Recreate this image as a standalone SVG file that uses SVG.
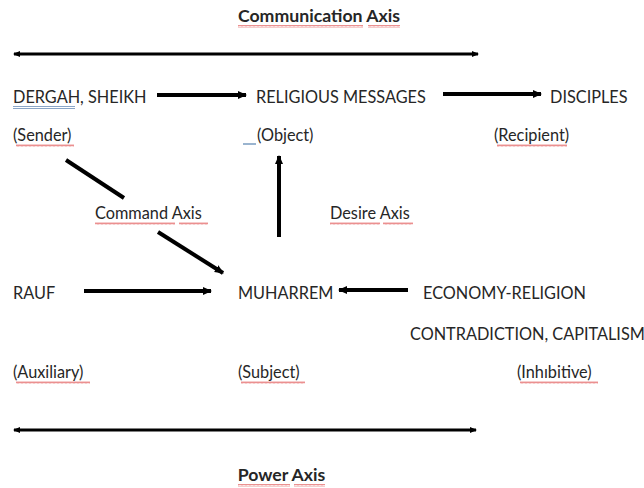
<svg xmlns="http://www.w3.org/2000/svg" width="644" height="488" viewBox="0 0 644 488">
<style>
text{font-family:Lato,"Open Sans","Liberation Sans",sans-serif;font-size:16.3px;fill:#262626}
.b{font-weight:bold;font-size:17.7px}
.thick{stroke:#000;stroke-width:4;fill:none}
.axis{stroke:#000;stroke-width:3;fill:none}
.sq{fill:url(#sq)}
</style>
<defs>
<marker id="ah" markerUnits="userSpaceOnUse" markerWidth="10" markerHeight="10" refX="8" refY="5" orient="auto"><path d="M0,1 L9,5 L0,9 Z" fill="#000"/></marker>
<marker id="ax" markerUnits="userSpaceOnUse" markerWidth="8" markerHeight="8" refX="6" refY="4" orient="auto-start-reverse"><path d="M0,1 L7,4 L0,7 Z" fill="#000"/></marker>
<pattern id="sq" width="4" height="3" patternUnits="userSpaceOnUse"><path d="M0,2.5 L1,0.5 L2,2.5 L3,0.5 L4,2.5" stroke="#d44" stroke-width="0.6" fill="none"/></pattern>
</defs>
<g id="title-communication"><text class="b" x="319" y="22" text-anchor="middle">Communication Axis</text><rect class="sq" x="238" y="25" width="125" height="3"/><rect class="sq" x="368" y="25" width="32" height="3"/></g>
<g id="title-power"><text class="b" x="281.5" y="481" text-anchor="middle">Power Axis</text><rect class="sq" x="238" y="484" width="52" height="3"/><rect class="sq" x="294" y="484" width="31" height="3"/></g>
<g id="sender"><text x="13" y="103">DERGAH, SHEIKH</text><line x1="13" y1="106.5" x2="75" y2="106.5" stroke="#8aa6c8" stroke-width="1"/><line x1="13" y1="108.5" x2="75" y2="108.5" stroke="#8aa6c8" stroke-width="1"/><text x="13" y="141">(Sender)</text><rect class="sq" x="16" y="144" width="58" height="3"/></g>
<g id="object"><text x="256" y="103">RELIGIOUS MESSAGES</text><text x="257" y="141">(Object)</text><rect x="243" y="143" width="13" height="2" fill="#9ab4cf"/></g>
<g id="recipient"><text x="550" y="103">DISCIPLES</text><text x="494" y="141">(Recipient)</text><rect class="sq" x="497" y="144" width="70" height="3"/></g>
<g id="command-axis"><text x="95" y="219">Command Axis</text><rect class="sq" x="95" y="222" width="80" height="3"/><rect class="sq" x="179" y="222" width="29" height="3"/></g>
<g id="desire-axis"><text x="330" y="219">Desire Axis</text><rect class="sq" x="330" y="222" width="50" height="3"/><rect class="sq" x="383" y="222" width="30" height="3"/></g>
<g id="helper"><text x="13" y="299">RAUF</text><text x="13" y="378">(Auxiliary)</text><rect class="sq" x="16" y="381" width="74" height="3"/></g>
<g id="subject"><text x="238" y="299">MUHARREM</text><text x="238" y="378">(Subject)</text><rect class="sq" x="241" y="381" width="64" height="3"/></g>
<g id="opponent"><text x="423" y="299">ECONOMY-RELIGION</text><text x="410" y="340">CONTRADICTION, CAPITALISM</text><text x="517" y="378">(Inhıbitive)</text><rect class="sq" x="520" y="381" width="78" height="3"/></g>
<g id="connectors">
<line class="axis" x1="14" y1="54" x2="478" y2="54" marker-start="url(#ax)" marker-end="url(#ax)"/>
<line class="axis" x1="14" y1="430" x2="476" y2="430" marker-start="url(#ax)" marker-end="url(#ax)"/>
<line class="thick" x1="157" y1="95" x2="246" y2="95" marker-end="url(#ah)"/>
<line class="thick" x1="443" y1="94" x2="541" y2="94" marker-end="url(#ah)"/>
<line class="thick" x1="66" y1="160" x2="124" y2="198"/>
<line class="thick" x1="158" y1="232" x2="223" y2="273" marker-end="url(#ah)"/>
<line class="thick" x1="279" y1="237" x2="279" y2="156" marker-end="url(#ah)"/>
<line class="thick" x1="84" y1="291" x2="211" y2="291" marker-end="url(#ah)"/>
<line class="thick" x1="408" y1="290" x2="339" y2="290" marker-end="url(#ah)"/>
</g>
</svg>
